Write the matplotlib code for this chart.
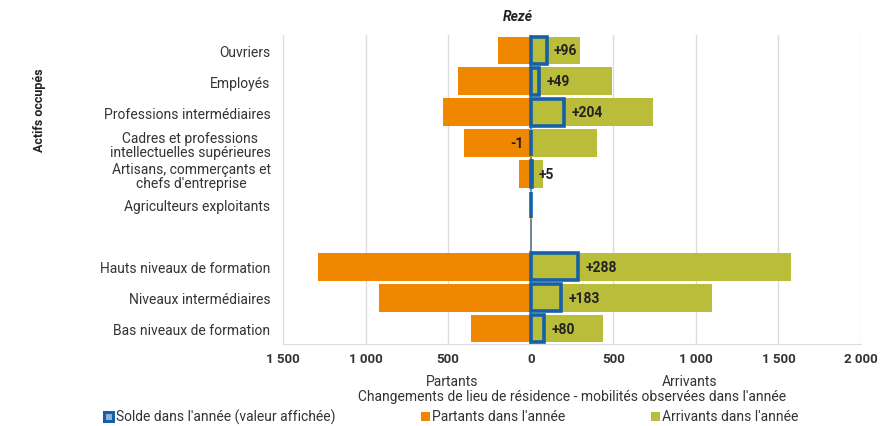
import matplotlib
matplotlib.use("Agg")
import matplotlib.pyplot as plt
from matplotlib.patches import Rectangle
import numpy as np

plt.rcParams['font.family'] = ['Roboto', 'DejaVu Sans']

categories = ["Ouvriers", "Employés", "Professions intermédiaires",
              "Cadres et professions\nintellectuelles supérieures",
              "Artisans, commerçants et\nchefs d'entreprise",
              "Agriculteurs exploitants", "",
              "Hauts niveaux de formation", "Niveaux intermédiaires",
              "Bas niveaux de formation"]
partants = [200, 443, 534, 401, 70, 5, 0, 1287, 917, 360]
arrivants = [296, 492, 738, 400, 75, 5, 0, 1575, 1100, 440]
solde = [96, 49, 204, -1, 5, 0, None, 288, 183, 80]
solde_labels = ["+96", "+49", "+204", "-1", "+5", "", "", "+288", "+183", "+80"]
xticks = [-1500, -1000, -500, 0, 500, 1000, 1500, 2000]
xticklabels = ["1 500", "1 000", "500", "0", "500", "1 000", "1 500", "2 000"]

ORANGE = "#F08700"
OLIVE = "#BABD3A"
BLUE = "#1560A8"
TXT = "#333333"
FS = 10

fig = plt.figure(figsize=(8.91, 4.27), dpi=100)
ax = fig.add_axes([283/891, 1-345/427, (861-283)/891, (345-36)/427])

y = np.arange(len(categories))
h = 0.9
ax.barh(y, [-p for p in partants], height=h, color=ORANGE, zorder=2)
ax.barh(y, arrivants, height=h, color=OLIVE, zorder=2)
for i, s in enumerate(solde):
    if s is None:
        continue
    ax.barh(i, max(s, 0), height=h - 0.04, color='none', edgecolor=BLUE, linewidth=2.6, zorder=3)
for i, (s, lab) in enumerate(zip(solde, solde_labels)):
    if not lab:
        continue
    if s >= 0:
        ax.text(s + 45, i, lab, ha='left', va='center', fontsize=FS, fontweight='bold', color='#222222', zorder=4)
    else:
        ax.text(-40, i, lab, ha='right', va='center', fontsize=FS, fontweight='bold', color='#222222', zorder=4)

ax.set_xlim(-1500, 2000)
ax.set_ylim(len(categories) - 0.5, -0.5)
ax.set_xticks(xticks)
ax.set_xticklabels(xticklabels, fontsize=9.5, fontweight='bold', color=TXT)
ax.set_yticks(y)
ax.set_yticklabels(categories, fontsize=FS, color=TXT, multialignment='center', linespacing=1.05)
ax.tick_params(axis='both', length=0)
ax.tick_params(axis='y', pad=9)
ax.tick_params(axis='x', pad=6)
for xv in xticks:
    if xv != 0:
        ax.axvline(xv, color='#DDDDDD', linewidth=1, zorder=0)
ax.axvline(0, color='#5A6E8A', linewidth=1.2, zorder=1)
for sp in ['top', 'right', 'left']:
    ax.spines[sp].set_visible(False)
ax.spines['bottom'].set_color('#DDDDDD')

fig.text(518/891, 1-17/427, "Rezé", ha='center', va='center', fontsize=FS,
         fontweight='bold', fontstyle='italic', color='#222222')
fig.text(40/891, 1-110/427, "Actifs occupés", ha='center', va='center', rotation=90,
         fontsize=9, fontweight='bold', color='#222222')
fig.text(452/891, 1-382/427, "Partants", ha='center', va='center', fontsize=FS, color=TXT)
fig.text(690/891, 1-382/427, "Arrivants", ha='center', va='center', fontsize=FS, color=TXT)
fig.text(572/891, 1-397/427, "Changements de lieu de résidence - mobilités observées dans l'année",
         ha='center', va='center', fontsize=FS, color=TXT)

# legend
ly = 1-417/427
sq_w = 9/891
sq_h = 9/427
fig.patches.append(Rectangle((104/891, ly - sq_h/2), sq_w, sq_h, transform=fig.transFigure,
                             facecolor='#8FB3D9', edgecolor=BLUE, linewidth=2.2))
fig.text(116/891, ly, "Solde dans l'année (valeur affichée)", ha='left', va='center', fontsize=FS, color=TXT)
fig.patches.append(Rectangle((421/891, ly - sq_h/2), sq_w, sq_h, transform=fig.transFigure,
                             facecolor=ORANGE, edgecolor='none'))
fig.text(432/891, ly, "Partants dans l'année", ha='left', va='center', fontsize=FS, color=TXT)
fig.patches.append(Rectangle((651/891, ly - sq_h/2), sq_w, sq_h, transform=fig.transFigure,
                             facecolor=OLIVE, edgecolor='none'))
fig.text(662/891, ly, "Arrivants dans l'année", ha='left', va='center', fontsize=FS, color=TXT)

fig.savefig("out.png", dpi=100)
